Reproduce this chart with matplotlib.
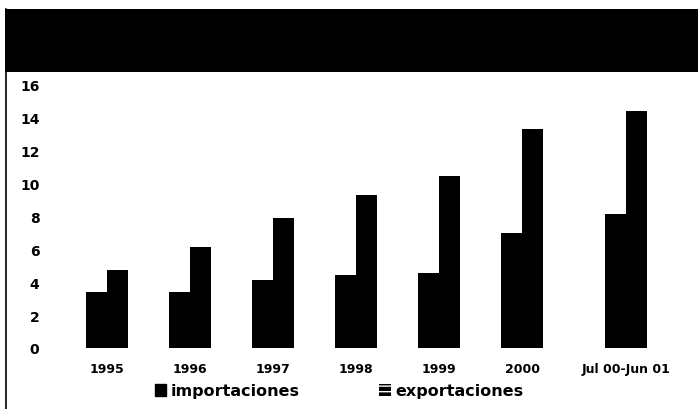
import matplotlib
matplotlib.use("Agg")
import matplotlib.pyplot as plt
from matplotlib.patches import Rectangle, Patch
from matplotlib.lines import Line2D
import numpy as np

# data
categories = ['1995', '1996', '1997', '1998', '1999', '2000', 'Jul 00-Jun 01']
importaciones = [3.4, 3.4, 4.15, 4.4, 4.55, 7.0, 8.1]
exportaciones = [4.7, 6.1, 7.9, 9.25, 10.4, 13.25, 14.35]
yticks = [0, 2, 4, 6, 8, 10, 12, 14, 16]

W, H = 698, 410
fig = plt.figure(figsize=(W / 100, H / 100), dpi=100)
fig.patch.set_facecolor('white')

def fx(px):
    return px / W

def fy(py):
    return 1 - py / H

# plot area: 0 at y=349px, left edge at x=45px
ax = fig.add_axes([fx(45), fy(349), fx(698 - 45), (349 - 73) / H])
ax.set_facecolor('none')

x = np.arange(len(categories), dtype=float)
x[-1] += 0.25  # last period sits a bit further right
w = 0.25
ax.bar(x - w / 2, importaciones, w, color='black', linewidth=0)
ax.bar(x + w / 2, exportaciones, w, color='black', linewidth=0)

ax.set_xlim(-0.747, 7.12)
ax.set_ylim(0, 16.73)
ax.set_yticks(yticks)
ax.set_yticklabels([str(t) for t in yticks], fontsize=10, fontweight='bold',
                   family='DejaVu Sans')
ax.set_xticks(x)
ax.set_xticklabels(categories, fontsize=9, fontweight='bold', family='DejaVu Sans')
ax.tick_params(axis='y', length=0, pad=4)
ax.tick_params(axis='x', length=0, pad=10)
for s in ax.spines.values():
    s.set_visible(False)

# black header band and left border
fig.patches.append(Rectangle((fx(5), fy(73)), fx(698 - 5), (73 - 10) / H,
                             transform=fig.transFigure, facecolor='black',
                             edgecolor='none'))
fig.lines.append(Line2D([fx(6), fx(6)], [fy(10), 0], transform=fig.transFigure,
                        color='black', linewidth=1.2))

handles = [Patch(facecolor='black', edgecolor='black'),
           Patch(facecolor='black', edgecolor='white', hatch='---', linewidth=0)]
fig.legend(handles, ['importaciones', 'exportaciones'], loc='center',
           bbox_to_anchor=(fx(339), fy(392)), ncol=2, frameon=False,
           columnspacing=5.0, handlelength=0.7, handleheight=0.7, handletextpad=0.3,
           prop={'family': 'DejaVu Sans', 'weight': 'bold', 'size': 11.5})

fig.savefig('out.png', dpi=100, facecolor='white')
